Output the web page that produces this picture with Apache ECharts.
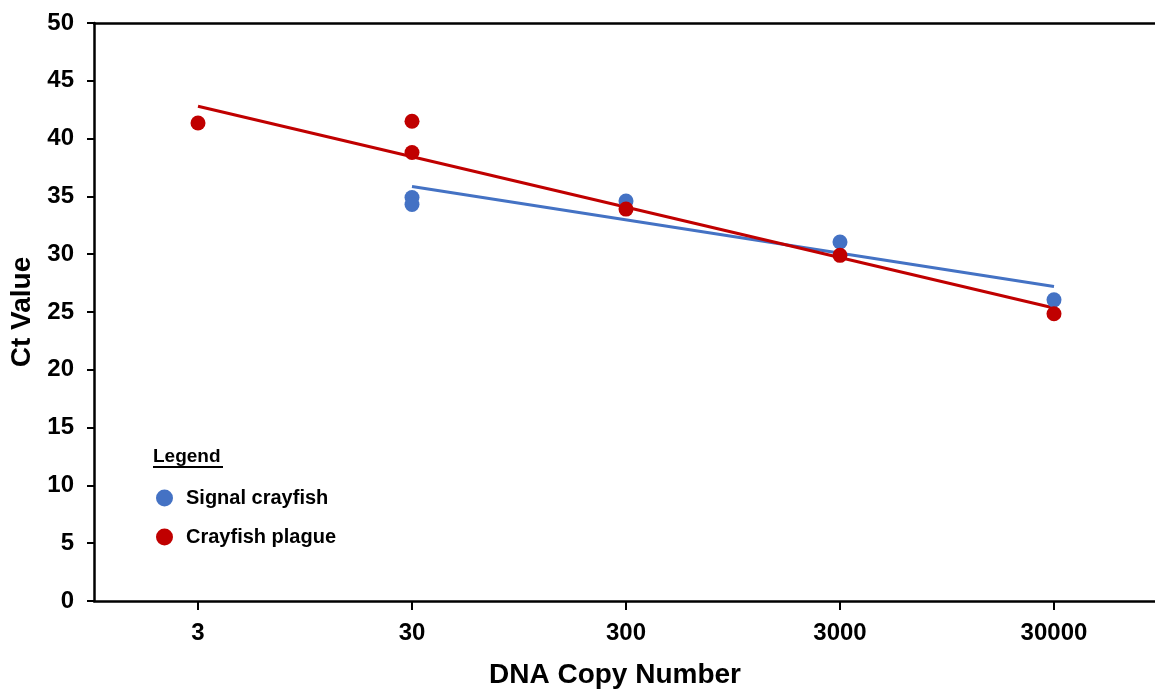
<!DOCTYPE html>
<html>
<head>
<meta charset="utf-8">
<script src="https://cdn.jsdelivr.net/npm/echarts@6/dist/echarts.min.js"></script>
<style>html,body{margin:0;padding:0;background:#fff;}#c{width:1155px;height:690px;}</style>
</head>
<body>
<div id="c"></div>
<script>
var categories = ["3", "30", "300", "3000", "30000"];
var signalPoints = [["30", 34.9], ["30", 34.3], ["300", 34.6], ["3000", 31.05], ["30000", 26.05]];
var plaguePoints = [["3", 41.35], ["30", 41.5], ["30", 38.8], ["300", 33.9], ["3000", 29.9], ["30000", 24.85]];
var signalTrend = [["30", 35.85], ["30000", 27.2]];
var plagueTrend = [["3", 42.8], ["30000", 25.35]];
var blue = "#4472C4", red = "#C00000";
var font = "Liberation Sans, Arial, sans-serif";

function toXY(pts) {
  return pts.map(function (p) { return [categories.indexOf(p[0]), p[1]]; });
}
var tickPositions = categories.map(function (c, i) { return i; });

var chart = echarts.init(document.getElementById('c'), null, {renderer: 'canvas'});
chart.setOption({
  animation: false,
  backgroundColor: '#fff',
  grid: {left: 94, top: 23, right: 0, bottom: 89, show: false, outerBoundsMode: 'none', containLabel: false},
  xAxis: [{
    type: 'value', min: -0.486, max: 4.472,
    axisLine: {onZero: false, lineStyle: {color: '#000', width: 2.5}},
    axisTick: {show: true, customValues: tickPositions, length: 9, lineStyle: {color: '#000', width: 2}},
    axisLabel: {customValues: tickPositions, color: '#000', fontFamily: font, fontWeight: 'bold', fontSize: 24, margin: 20,
      formatter: function (v) { return categories[Math.round(v)]; }},
    splitLine: {show: false},
    name: 'DNA Copy Number', nameLocation: 'middle', nameGap: 60,
    nameTextStyle: {color: '#000', fontFamily: font, fontWeight: 'bold', fontSize: 28, padding: [0, 19, 0, 0]}
  }, {
    type: 'value', position: 'top', min: -0.486, max: 4.472,
    axisLine: {show: true, onZero: false, lineStyle: {color: '#000', width: 2.5}},
    axisTick: {show: false}, axisLabel: {show: false}, splitLine: {show: false}
  }],
  yAxis: {
    type: 'value', min: 0, max: 50, interval: 5,
    axisLine: {show: true, onZero: false, lineStyle: {color: '#000', width: 2.5}},
    axisTick: {show: true, inside: false, length: 7, lineStyle: {color: '#000', width: 2}},
    axisLabel: {color: '#000', fontFamily: font, fontWeight: 'bold', fontSize: 24, margin: 20},
    splitLine: {show: false},
    name: 'Ct Value', nameLocation: 'middle', nameGap: 50, nameRotate: 90,
    nameTextStyle: {color: '#000', fontFamily: font, fontWeight: 'bold', fontSize: 28}
  },
  legend: {
    data: ['Signal crayfish', 'Crayfish plague'],
    orient: 'vertical', left: 151, top: 483, itemGap: 19,
    icon: 'circle', itemWidth: 17, itemHeight: 17,
    textStyle: {color: '#000', fontFamily: font, fontWeight: 'bold', fontSize: 20, padding: [0, 0, 0, 8]}
  },
  graphic: [
    {type: 'text', left: 153, top: 447, style: {text: 'Legend', fill: '#000', font: 'bold 19px ' + font}},
    {type: 'line', shape: {x1: 153, y1: 467, x2: 223, y2: 467}, style: {stroke: '#000', lineWidth: 2}}
  ],
  series: [
    {name: 'Signal trend', type: 'line', data: toXY(signalTrend), symbol: 'none', lineStyle: {color: blue, width: 3}, z: 2},
    {name: 'Plague trend', type: 'line', data: toXY(plagueTrend), symbol: 'none', lineStyle: {color: red, width: 3}, z: 2},
    {name: 'Signal crayfish', type: 'scatter', data: toXY(signalPoints), symbol: 'circle', symbolSize: 15, itemStyle: {color: blue, opacity: 1}, z: 3},
    {name: 'Crayfish plague', type: 'scatter', data: toXY(plaguePoints), symbol: 'circle', symbolSize: 15, itemStyle: {color: red, opacity: 1}, z: 4}
  ]
});
</script>
</body>
</html>
